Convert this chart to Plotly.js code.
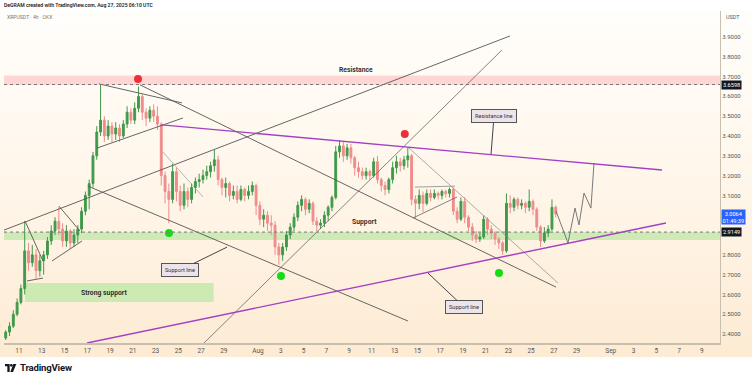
<!DOCTYPE html>
<html><head><meta charset="utf-8">
<script src="https://cdn.plot.ly/plotly-3.0.1.min.js"></script>
<style>
body{margin:0;width:752px;height:381px;background:#fff;overflow:hidden;position:relative;font-family:Roboto,"Open Sans",sans-serif;}
#bg{position:absolute;left:0;top:11px;width:752px;height:346px;background:linear-gradient(to bottom,#fffefb 0%,#fff7ec 45%,#fdebd3 100%);}
#chart{position:absolute;left:0;top:0;width:752px;height:381px;}
#hdr{position:absolute;left:4px;top:2px;font-size:5.1px;color:#222;font-weight:600;white-space:nowrap;}
#sym{position:absolute;left:7px;top:14px;font-size:5.1px;color:#777;white-space:nowrap;}
#usdt{position:absolute;left:726px;top:14px;font-size:5.4px;color:#555;}
#logo{position:absolute;left:5px;top:362px;font-size:9.6px;font-weight:700;color:#131722;display:flex;align-items:center;gap:3px;letter-spacing:-0.2px;}
</style></head>
<body>
<div id="bg"></div>
<div id="chart"></div>
<div id="hdr">DeGRAM created with TradingView.com, Aug 27, 2025 06:10 UTC</div>
<div id="sym">XRPUSDT · 4h · OKX</div>
<div id="usdt">USDT</div>
<div id="logo"><svg width="12" height="8" viewBox="0 0 36 24"><path d="M0 0h14v24H7V7H0z M24 24h-8l9-24h9z" fill="#131722"/><circle cx="19" cy="4" r="4" fill="#131722"/></svg><span>TradingView</span></div>
<script>
// ---- candle data (8h candles, first opens 2025-07-09 16:00) ----
const firstOpen = 2.38;
const closes = [
2.41,
2.44,2.50,2.56, 2.63,2.82,2.76, 2.80,2.72,2.77, 2.80,2.87,2.92, 2.97,2.93,2.87,
2.92,2.86,2.90, 2.93,3.02,3.10, 3.16,3.30,3.42, 3.48,3.40,3.45, 3.41,3.44,3.40,
3.46,3.52,3.48, 3.54,3.60,3.52, 3.49,3.53,3.50, 3.46,3.20,3.12, 3.08,3.22,3.12,
3.05,3.12,3.08, 3.14,3.17,3.18, 3.20,3.22,3.25, 3.28,3.18,3.14, 3.16,3.10,3.12,
3.08,3.13,3.10, 3.12,3.15,3.05, 2.98,3.00,2.96, 2.95,2.84,2.80, 2.84,2.90,2.94,
2.99,3.05,3.08, 3.03,3.06,2.97, 2.95,2.96,3.00, 3.04,3.09,3.32, 3.35,3.30,3.34,
3.29,3.24,3.22, 3.20,3.22,3.20, 3.27,3.18,3.15, 3.13,3.18,3.24, 3.27,3.25,3.28,
3.30,3.08,3.06, 3.10,3.06,3.11, 3.09,3.11,3.10, 3.12,3.11,3.13, 3.02,2.98,3.07,
2.99,2.94,2.90, 2.88,2.89,2.98, 2.93,2.91,2.88, 2.86,2.82,3.06, 3.04,3.08,3.05,
3.06,3.04,3.07, 3.03,2.94,2.87, 2.91,2.93,3.04,
3.006];
const highs = [
2.42,
2.46,2.52,2.58, 2.65,2.97,2.86, 2.85,2.83,2.80, 2.82,2.89,2.95, 2.99,3.04,2.96,
2.95,2.93,2.93, 2.95,3.04,3.12, 3.18,3.32,3.45, 3.66,3.50,3.48, 3.47,3.47,3.46,
3.48,3.55,3.54, 3.57,3.65,3.61, 3.54,3.55,3.56, 3.55,3.47,3.22, 3.16,3.26,3.24,
3.15,3.16,3.14, 3.16,3.19,3.21, 3.23,3.25,3.27, 3.33,3.30,3.19, 3.19,3.17,3.15,
3.15,3.15,3.14, 3.15,3.17,3.16, 3.07,3.03,3.02, 3.00,2.97,2.86, 2.86,2.92,2.96,
3.01,3.07,3.10, 3.09,3.08,3.07, 2.99,2.98,3.02, 3.05,3.10,3.35, 3.38,3.37,3.36,
3.36,3.30,3.27, 3.24,3.24,3.23, 3.29,3.30,3.19, 3.17,3.19,3.27, 3.30,3.29,3.30,
3.34,3.31,3.10, 3.13,3.12,3.13, 3.13,3.13,3.12, 3.13,3.13,3.14, 3.14,3.04,3.09,
3.09,3.00,2.96, 2.92,2.91,3.00, 2.99,2.95,2.92, 2.89,2.87,3.11, 3.10,3.09,3.09,
3.08,3.07,3.13, 3.08,3.04,2.95, 2.94,2.95,3.08,
3.05];
const lows = [
2.37,
2.39,2.43,2.49, 2.55,2.60,2.72, 2.74,2.68,2.69, 2.70,2.78,2.85, 2.90,2.90,2.84,
2.84,2.83,2.84, 2.86,2.91,3.00, 3.03,3.14,3.28, 3.40,3.37,3.38, 3.37,3.38,3.37,
3.39,3.44,3.46, 3.46,3.52,3.48, 3.45,3.47,3.47, 3.43,3.15,3.06, 2.96,3.06,3.07,
3.02,3.03,3.04, 3.06,3.11,3.14, 3.16,3.18,3.19, 3.22,3.15,3.10, 3.09,3.07,3.08,
3.06,3.07,3.07, 3.08,3.10,3.00, 2.95,2.94,2.92, 2.90,2.80,2.75, 2.77,2.82,2.88,
2.92,2.97,3.02, 3.00,3.01,2.95, 2.92,2.93,2.94, 2.97,3.02,3.08, 3.29,3.27,3.28,
3.26,3.20,3.19, 3.18,3.18,3.18, 3.19,3.16,3.12, 3.10,3.11,3.16, 3.21,3.22,3.23,
3.24,3.05,2.985, 3.03,3.015,3.05, 3.07,3.08,3.08, 3.08,3.09,3.09, 3.00,2.96,2.97,
2.96,2.92,2.87, 2.86,2.865,2.88, 2.90,2.88,2.85, 2.83,2.80,2.81, 3.01,3.02,3.03,
3.03,3.01,3.02, 3.00,2.92,2.84, 2.86,2.89,2.92,
2.99];

// ---- key levels & zones ----
const resistanceZone = [3.658, 3.706];
const supportZone = [2.875, 2.915];
const strongSupportX = ['2025-07-11 12:43','2025-07-28 02:24'];
const strongSupportY = [2.562, 2.658];
const levelHigh = 3.6598, levelSupport = 2.9149, lastPrice = 3.0064;

// ---- drawn lines ----
const resLineX = ['2025-07-23 13:41','2025-09-05 12:00'], resLineY = [3.456, 3.228];
const supLineX = ['2025-07-16 23:31','2025-09-05 20:24'], supLineY = [2.355, 2.961];
const chanUpX = ['2025-07-09 16:22','2025-08-23 03:36'], chanUpY = [2.925, 3.905];
const steepX = ['2025-07-27 06:14','2025-08-22 10:34'], steepY = [2.355, 3.834];
const dnLongX = ['2025-07-21 15:07','2025-08-27 04:34'], dnLongY = [3.658, 2.637];
const dnShortX = ['2025-07-18 00:43','2025-07-25 07:41'], dnShortY = [3.663, 3.567];
const dnMidX = ['2025-07-17 01:26','2025-08-14 04:19'], dnMidY = [3.147, 2.466];
const flagX = ['2025-07-17 20:24','2025-07-25 09:50'], flagY = [3.339, 3.491];
const dropX = ['2025-07-23 15:36','2025-07-27 04:05'], dropY = [3.319, 3.092];
const augDnX = ['2025-08-14 04:19','2025-08-27 08:38'], augDnY = [3.344, 2.658];
const triTopX = ['2025-08-14 19:12','2025-08-18 07:26'], triTopY = [3.142, 3.147];
const triBotX = ['2025-08-14 14:53','2025-08-18 11:46'], triBotY = [2.986, 3.092];
const l1X = ['2025-07-11 12:43','2025-07-13 02:38'], l1Y = [2.971, 2.769];
const l2X = ['2025-07-11 16:48','2025-07-13 02:38'], l2Y = [2.668, 2.683];
const l3X = ['2025-07-13 21:36','2025-07-16 12:58'], l3Y = [2.769, 2.870];
const l4X = ['2025-07-14 12:14','2025-07-16 08:38'], l4Y = [3.046, 2.920];
const projX = ['2025-08-27 04:34','2025-08-28 05:46','2025-08-28 20:38','2025-08-29 05:02','2025-08-29 15:36','2025-08-30 06:14','2025-08-30 12:43'];
const projY = [3.021, 2.860, 3.036, 2.951, 3.112, 3.036, 3.264];

const redDotX = ['2025-07-21 11:02','2025-08-13 21:36'], redDotY = [3.688, 3.41];
const greenDotX = ['2025-07-24 04:19','2025-08-03 00:29','2025-08-22 04:19'], greenDotY = [2.910, 2.693, 2.708];

// ---- axis ticks (2.9 and 3.0 are hidden behind the price labels in the reference) ----
const xTickVals = ['2025-07-11','2025-07-13','2025-07-15','2025-07-17','2025-07-19','2025-07-21','2025-07-23','2025-07-25','2025-07-27','2025-07-29','2025-08-01','2025-08-03','2025-08-05','2025-08-07','2025-08-09','2025-08-11','2025-08-13','2025-08-15','2025-08-17','2025-08-19','2025-08-21','2025-08-23','2025-08-25','2025-08-27','2025-08-29','2025-09-01','2025-09-03','2025-09-05','2025-09-07','2025-09-09'];
const xTickText = ['11','13','15','17','19','21','23','25','27','29','Aug','3','5','7','9','11','13','15','17','19','21','23','25','27','29','Sep','3','5','7','9'];
const yTickVals = [2.4,2.5,2.6,2.7,2.8,3.1,3.2,3.3,3.4,3.5,3.6,3.7,3.8,3.9];
const xRange = ['2025-07-09 16:22','2025-09-10 14:24'];
const yRange = [2.355, 4.031];

// ---- build ----
const t0 = Date.UTC(2025,6,9,16), stepMs = 8*3600*1000;
const fmt = ms => new Date(ms).toISOString().slice(0,19).replace('T',' ');
const cx = closes.map((_,i)=>fmt(t0 + i*stepMs + stepMs/2));
const opens = closes.map((_,i)=> i===0 ? firstOpen : closes[i-1]);

const traces = [];
function line(x,y,color,width,dash){traces.push({type:'scatter',mode:'lines',x,y,line:{color,width,dash:dash||'solid'},hoverinfo:'skip',showlegend:false});}
line(chanUpX,chanUpY,'#555',0.9);
line(steepX,steepY,'#666',0.8);
line(dnLongX,dnLongY,'#555',0.9);
line(dnShortX,dnShortY,'#555',0.9);
line(dnMidX,dnMidY,'#555',0.9);
line(flagX,flagY,'#555',0.9);
line(dropX,dropY,'#999',0.7);
line(augDnX,augDnY,'#888',0.7);
line(triTopX,triTopY,'#888',0.8);
line(triBotX,triBotY,'#666',0.8);
line(l1X,l1Y,'#555',0.9);
line(l2X,l2Y,'#555',0.9);
line(l3X,l3Y,'#555',0.9);
line(l4X,l4Y,'#555',0.9);

traces.push({type:'candlestick',x:cx,open:opens,high:highs,low:lows,close:closes,
  increasing:{line:{color:'#3f9a4a',width:1},fillcolor:'#3f9a4a'},
  decreasing:{line:{color:'#ef8c8c',width:1},fillcolor:'#ef8c8c'},
  whiskerwidth:0,hoverinfo:'skip',showlegend:false});

line(resLineX,resLineY,'#a43fc4',1.4);
line(supLineX,supLineY,'#a43fc4',1.4);
line(projX,projY,'#6b6b6b',0.9);

traces.push({type:'scatter',mode:'markers',x:redDotX,y:redDotY,marker:{color:'#ee2f3b',size:8},hoverinfo:'skip',showlegend:false});
traces.push({type:'scatter',mode:'markers',x:greenDotX,y:greenDotY,marker:{color:'#16dc16',size:8},hoverinfo:'skip',showlegend:false});

const shapes = [
 {type:'rect',xref:'paper',yref:'y',x0:0,x1:1,y0:resistanceZone[0],y1:resistanceZone[1],fillcolor:'rgba(252,170,175,0.45)',line:{width:0},layer:'below'},
 {type:'rect',xref:'paper',yref:'y',x0:0,x1:1,y0:supportZone[0],y1:supportZone[1],fillcolor:'rgba(160,225,140,0.5)',line:{width:0},layer:'below'},
 {type:'rect',xref:'x',yref:'y',x0:strongSupportX[0],x1:strongSupportX[1],y0:strongSupportY[0],y1:strongSupportY[1],fillcolor:'rgba(170,230,150,0.6)',line:{width:0},layer:'below'},
 {type:'line',xref:'paper',yref:'y',x0:0,x1:1,y0:levelHigh,y1:levelHigh,line:{color:'#777',width:1,dash:'dot'}},
 {type:'line',xref:'paper',yref:'y',x0:0,x1:1,y0:levelSupport,y1:levelSupport,line:{color:'#777',width:1,dash:'dot'}}
];

const lbl = (text,y,bg,extra)=>Object.assign({xref:'paper',yref:'y',x:1,y,xanchor:'left',xshift:1,text,showarrow:false,bgcolor:bg,font:{color:'#fff',size:5.6,family:'Roboto'},borderpad:1},extra||{});
const callout = (text,x,y,ax,ay)=>({xref:'x',yref:'y',x,y,ax,ay,text,showarrow:true,arrowhead:0,arrowwidth:1,arrowcolor:'#444',bgcolor:'#ece4ea',bordercolor:'#555',borderwidth:1,borderpad:3,font:{size:5.6,color:'#333',family:'Roboto'}});
const annotations = [
 {xref:'x',yref:'y',x:'2025-08-09 14:24',y:3.733,text:'<b>Resistance</b>',showarrow:false,font:{size:6.8,color:'#333',family:'Roboto'}},
 {xref:'x',yref:'y',x:'2025-08-10 09:36',y:2.966,text:'<b>Support</b>',showarrow:false,font:{size:6.8,color:'#333',family:'Roboto'}},
 {xref:'x',yref:'y',x:'2025-07-18 11:17',y:2.607,text:'<b>Strong support</b>',showarrow:false,font:{size:6.8,color:'#333',family:'Roboto'}},
 callout('Resistance line','2025-08-21 11:31',3.309,3,-38),
 callout('Support line','2025-07-29 06:43',2.839,-47,23),
 callout('Support line','2025-08-15 22:34',2.708,36,34),
 lbl(levelHigh.toFixed(4),levelHigh,'#131722'),
 lbl(levelSupport.toFixed(4),levelSupport,'#131722'),
 lbl(lastPrice.toFixed(4)+'<br>01:49:39',lastPrice,'#2962ff',{yanchor:'top',yshift:5,borderpad:0.5})
];

const layout = {
 width:752,height:381,margin:{l:4,r:32,t:11,b:38},
 paper_bgcolor:'rgba(0,0,0,0)',plot_bgcolor:'rgba(0,0,0,0)',
 showlegend:false,dragmode:false,
 xaxis:{type:'date',range:xRange,tickmode:'array',tickvals:xTickVals,ticktext:xTickText,showgrid:false,zeroline:false,
   showline:true,linecolor:'#c9bfae',linewidth:2,ticks:'',tickfont:{size:6.5,color:'#555',family:'Roboto'},rangeslider:{visible:false},fixedrange:true},
 yaxis:{side:'right',range:yRange,tickmode:'array',tickvals:yTickVals,ticktext:yTickVals.map(v=>v.toFixed(4)),showgrid:false,zeroline:false,
   showline:true,linecolor:'#c9bfae',linewidth:1,ticks:'',tickfont:{size:6,color:'#555',family:'Roboto'},fixedrange:true},
 shapes,annotations
};
Plotly.newPlot('chart',traces,layout,{staticPlot:true,displayModeBar:false});
</script>
</body></html>
